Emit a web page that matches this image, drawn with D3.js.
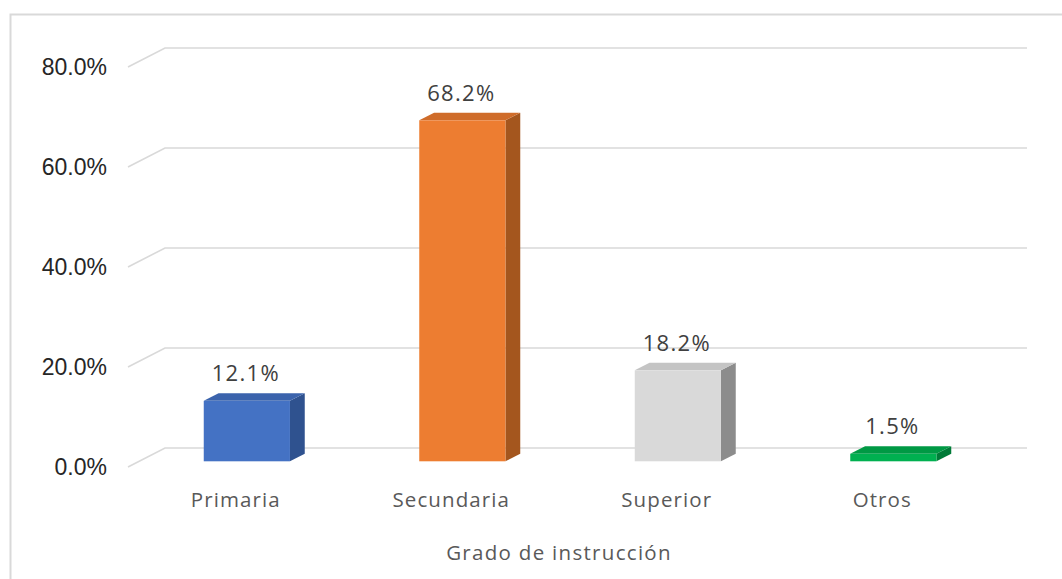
<!DOCTYPE html>
<html>
<head>
<meta charset="utf-8">
<script src="https://cdn.jsdelivr.net/npm/d3@7"></script>
<style>
  body { margin: 0; background: #fff; }
  svg { display: block; }
</style>
</head>
<body>
<div id="chart"></div>
<script>
// data
const categories = ["Primaria", "Secundaria", "Superior", "Otros"];
const values = [12.1, 68.2, 18.2, 1.5];
const yTicks = [0, 20, 40, 60, 80];

// front, top, side colours of each bar
const frontColors = ["#4472C4", "#ED7D31", "#D9D9D9", "#00B050"];
const topColors = ["#3B63AC", "#CF6C2A", "#C4C4C4", "#009944"];
const sideColors = ["#2F528F", "#A4561E", "#8C8C8C", "#007A37"];

var width = 1062
var height = 579

// 3d look: depth 0 = front of floor, 1 = back wall
var DX = 37, DY = -19;
var d0 = 0.3, d1 = 0.7;

var svg = d3.select("#chart")
  .append("svg")
    .attr("width", width)
    .attr("height", height)

// chart border
svg.append("rect")
  .attr("x", 10.5).attr("y", 14.5)
  .attr("width", 1100).attr("height", 700)
  .attr("fill", "none")
  .attr("stroke", "#d9d9d9")
  .attr("stroke-width", 2)

var y = d3.scaleLinear().domain([0, 80]).range([467, 67]);
var x = d3.scaleBand().domain(categories).range([128, 990])
  .paddingInner(0.6).paddingOuter(0.3);

// gridlines: short diagonal on the side, then along the back wall
var grid = svg.append("g");
yTicks.forEach(function(t) {
  grid.append("path")
    .attr("d", "M" + 128 + "," + y(t) + "L" + (128 + DX) + "," + (y(t) + DY) +
      "L" + (990 + DX) + "," + (y(t) + DY))
    .attr("fill", "none")
    .attr("stroke", "#d9d9d9")
    .attr("stroke-width", 1.6)
});

// y tick labels
svg.append("g").selectAll("text")
  .data(yTicks)
  .enter().append("text")
    .attr("x", 107)
    .attr("y", function(d) { return y(d) + 8; })
    .attr("text-anchor", "end")
    .style("font-family", "'Liberation Sans', Arial, sans-serif")
    .style("font-size", "23px")
    .style("fill", "#262626")
    .text(function(d) { return d.toFixed(1) + "%"; })

// bars
var bars = svg.append("g").selectAll("g")
  .data(values)
  .enter().append("g")

function pt(px, py) { return px + "," + py; }

bars.each(function(v, i) {
  var g = d3.select(this);
  var bx = x(categories[i]) + DX * d0;
  var bw = x.bandwidth();
  var by0 = y(0) + DY * d0;
  var by1 = y(v) + DY * d0;
  var ox = DX * (d1 - d0), oy = DY * (d1 - d0);
  // side
  g.append("polygon")
    .attr("points", [pt(bx + bw, by0), pt(bx + bw + ox, by0 + oy), pt(bx + bw + ox, by1 + oy), pt(bx + bw, by1)].join(" "))
    .attr("fill", sideColors[i])
  // top
  g.append("polygon")
    .attr("points", [pt(bx, by1), pt(bx + ox, by1 + oy), pt(bx + bw + ox, by1 + oy), pt(bx + bw, by1)].join(" "))
    .attr("fill", topColors[i])
  // front
  g.append("rect")
    .attr("x", bx).attr("y", by1)
    .attr("width", bw).attr("height", by0 - by1)
    .attr("fill", frontColors[i])
  // value label
  g.append("text")
    .attr("x", bx + bw / 2 - 1)
    .attr("y", by1 + oy - 12)
    .attr("text-anchor", "middle")
    .style("font-family", "'Open Sans', sans-serif")
    .style("font-size", "22px")
    .style("letter-spacing", "1.3px")
    .style("fill", "#404040")
    .text(v.toFixed(1) + "%")
});

// category labels
svg.append("g").selectAll("text")
  .data(categories)
  .enter().append("text")
    .attr("x", function(d) { return x(d) + x.bandwidth() / 2; })
    .attr("y", 507)
    .attr("text-anchor", "middle")
    .style("font-family", "'Open Sans', sans-serif")
    .style("font-size", "20.5px")
    .style("letter-spacing", "1.1px")
    .style("fill", "#595959")
    .text(function(d) { return d; })

// axis title
svg.append("text")
  .attr("x", 559)
  .attr("y", 560)
  .attr("text-anchor", "middle")
  .style("font-family", "'Open Sans', sans-serif")
  .style("font-size", "20.5px")
  .style("letter-spacing", "1.3px")
  .style("fill", "#595959")
  .text("Grado de instrucción")
</script>
</body>
</html>
